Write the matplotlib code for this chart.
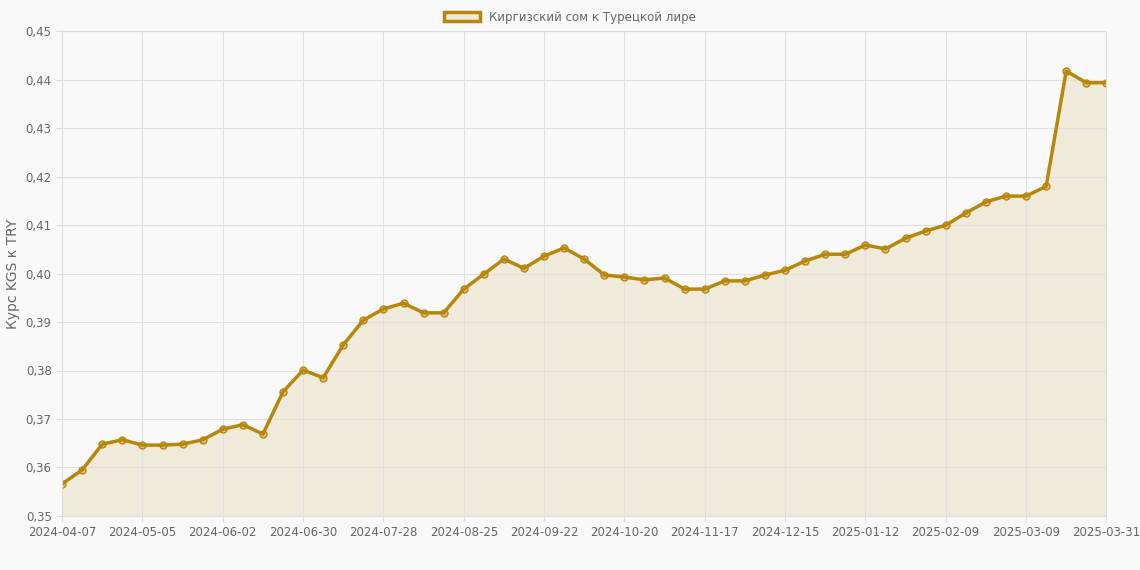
import matplotlib
matplotlib.use("Agg")
import matplotlib.pyplot as plt
import matplotlib.patches as mpatches
import pandas as pd

dates = list(pd.date_range("2024-04-07", periods=52, freq="7D").strftime("%Y-%m-%d")) + ["2025-03-31"]
rates = [0.3566, 0.3595, 0.3648, 0.3657, 0.3646, 0.3646, 0.3648, 0.3657, 0.3679, 0.3688,
         0.3669, 0.3756, 0.3801, 0.3785, 0.3853, 0.3904, 0.3927, 0.3939, 0.3919, 0.3919,
         0.3968, 0.3999, 0.4030, 0.4011, 0.4036, 0.4053, 0.4030, 0.3997, 0.3993, 0.3987,
         0.3991, 0.3968, 0.3968, 0.3985, 0.3985, 0.3997, 0.4007, 0.4026, 0.4040, 0.4040,
         0.4059, 0.4051, 0.4073, 0.4088, 0.4100, 0.4125, 0.4148, 0.4160, 0.4160, 0.4180,
         0.4418, 0.4394, 0.4394]

LINE = "#B8860B"
BG = "#F9F9F9"

fig = plt.figure(figsize=(11.4, 5.7), dpi=100, facecolor=BG)
ax = fig.add_axes([0.0545, 0.095, 0.916, 0.85], facecolor=BG)
x = list(range(len(rates)))
ax.fill_between(x, rates, 0.35, color=LINE, alpha=0.13, lw=0)
ax.plot(x, rates, color=LINE, lw=2.5, marker="o", ms=5,
        mfc=(0.72, 0.53, 0.04, 0.4), mec=LINE, mew=1)

ax.set_xlim(0, len(rates) - 1)
ax.set_ylim(0.35, 0.45)
ticks = [0.35 + 0.01 * i for i in range(11)]
ax.set_yticks(ticks)
ax.set_yticklabels([f"{t:.2f}".replace(".", ",") for t in ticks])
ax.set_xticks(x[::4])
ax.set_xticklabels(dates[::4])
ax.tick_params(labelsize=8.5, colors="#666666", length=4, color="#dddddd")
ax.grid(True, color="#e0e0e0", lw=0.8)
for s in ax.spines.values():
    s.set_color("#dddddd")
ax.set_ylabel("Курс KGS к TRY", fontsize=10, color="#666666")

h = mpatches.Patch(facecolor=(0.72, 0.53, 0.04, 0.13), edgecolor=LINE, lw=2.5,
                   label="Киргизский сом к Турецкой лире")
fig.legend(handles=[h], loc="upper center", bbox_to_anchor=(0.5, 1.0), frameon=False,
           fontsize=8.5, labelcolor="#666666", handlelength=3, handleheight=0.9)
fig.savefig("out.png", facecolor=BG)
